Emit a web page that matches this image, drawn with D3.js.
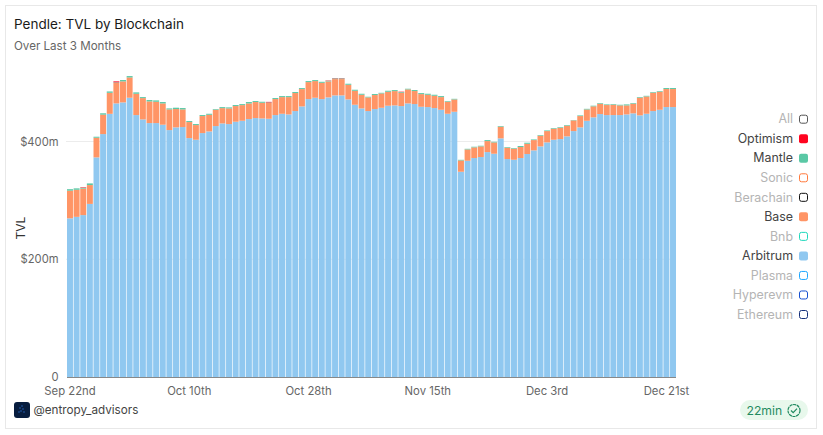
<!DOCTYPE html>
<html><head><meta charset="utf-8">
<script src="https://cdn.jsdelivr.net/npm/d3@7"></script>
<style>
html,body{margin:0;padding:0;background:#fff}
svg{display:block;font-family:Inter,"Noto Sans",sans-serif}
.domain{display:none}
</style></head><body>
<svg id="c" width="823" height="435"></svg>
<script>
const arbitrum=[269.5,272,275,294,373,412.6,447,464.7,466.4,474.3,444.9,437.5,431.3,431.3,428.5,419.4,424,424.5,405.8,403,414.3,417.1,426.2,430.7,429.6,433.6,435.2,438.1,439.8,439.2,438.6,444.9,447.1,446,451.7,459.6,472,474.3,472,474.9,478.3,478.3,471.5,462.4,456.2,451.7,455.1,457.3,460.7,461.3,460.2,464.7,463.6,459,458.5,456.8,453.9,447.1,450.5,348.6,367.3,371.9,373.6,382,379.2,405.3,370.2,369,371.9,378.7,384.9,391.7,398.5,403,404.1,408.7,417.7,424,435.2,441,446.6,444.9,444.9,444.9,446,447.8,444.4,447.1,451.7,453.9,458.5,458.5];
const base=[47,46,45,32,33.4,33,35.7,35,35.7,34.5,36.2,36.2,36.8,36.2,36.2,35.1,31.1,30,27.2,24.9,28.9,28.3,27.7,26,26.6,26.6,26.6,26.6,27.2,26.6,27.2,27.2,28.3,29.4,30.6,29.4,28.9,28.3,27.7,27.2,27.7,27.7,24.9,23.8,23.2,23.2,23.8,24.3,23.8,24.3,22.6,23.8,22.1,21.5,20.9,20.9,21.5,20.4,20.9,19.2,19.2,18.1,18.1,18.7,19.2,19.8,19.2,18.7,18.7,17.5,17.5,18.1,19.2,18.7,19.2,18.1,18.1,19.2,19.2,18.7,17.5,17,17.5,16.4,15.3,16.4,30,29.4,31.1,30.6,30.6,30.6];
const mantle=[2.5,2.4,1.4,2.8,1.7,2.3,2.3,0.8,2.3,2.3,2.3,1.7,2.3,2.3,2.3,1.7,2.3,2.3,1.7,1.7,1.7,1.7,1.1,1.7,1.7,1.7,1.7,2.3,1.7,1.7,0.6,1.7,1.7,1.7,1.7,1.7,1.7,1.7,1.7,1.1,1.1,1.1,1.7,1.7,1.7,1.1,1.7,1.1,1.7,1.7,1.2,1.1,1.7,1.7,1.7,1.7,1.7,1.1,1.1,1.1,1.1,1.1,1.1,1.7,1.1,1.1,1.1,1.1,1.7,1.7,1.1,1.1,1.1,1.1,1.1,1.1,0.6,1.1,1.1,1.1,1.1,1.1,1.1,1.1,1.7,1.1,1.1,1.1,1.1,1.1,1.7,1.7];
const optimism=[0,0,0.8,0,0,0,0,1.6,0,0,0,0,0,0,0,0,0,0,0,0,0,0,0,0,0,0,0,0,0,0,0.9,0,0,0,0,0,0,0,0,0.5,0.5,0.5,0,0,0,0,0,0,0,0,0.6,0,0,0,0,0,0,0,0,0,0,0,0,0,0,0,0,0,0,0,0,0,0,0,0,0,0,0,0,0,0,0,0,0,0,0,0,0,0,0,0,0];
const days=d3.timeDay.range(new Date(2025,8,22),new Date(2025,11,23));
const tickDays=[new Date(2025,8,22),new Date(2025,9,10),new Date(2025,9,28),new Date(2025,10,15),new Date(2025,11,3),new Date(2025,11,21)];
const tickLabels=["Sep 22nd","Oct 10th","Oct 28th","Nov 15th","Dec 3rd","Dec 21st"];
const yTicks=[0,200,400];
const legendNames=["All","Optimism","Mantle","Sonic","Berachain","Base","Bnb","Arbitrum","Plasma","Hyperevm","Ethereum"];
const legendColors=["#555555","#ff0420","#5ac8a5","#ff7a3d","#111111","#ff9566","#1fd8bc","#90c8f0","#1ea7ff","#1550d0","#14307a"];
const legendActive=["Optimism","Mantle","Base","Arbitrum"];

const svg=d3.select("#c");
svg.append("rect").attr("x",5.5).attr("y",5.5).attr("width",811).attr("height",423)
  .attr("fill","#fff").attr("stroke","#e8e8e8");
svg.append("text").attr("x",14).attr("y",29).attr("font-size",13.5).attr("fill","#1a1a1a").text("Pendle: TVL by Blockchain");
svg.append("text").attr("x",14).attr("y",50).attr("font-size",11.6).attr("fill","#666").text("Over Last 3 Months");

const x=d3.scaleBand().domain(days).range([67,676]).paddingInner(0.1).paddingOuter(0);
const y=d3.scaleLinear().domain([0,400]).range([377,141.5]);

const gy=svg.append("g").attr("transform","translate(66,0)")
  .call(d3.axisLeft(y).tickValues(yTicks).tickSize(0).tickPadding(7.5).tickFormat(d=>d===0?"0":`$${d}m`));
gy.selectAll("text").attr("font-size",11.2).attr("fill","#666").attr("font-family","Inter");
svg.append("g").selectAll("line").data(yTicks.filter(d=>d>0)).join("line")
  .attr("x1",66).attr("x2",676).attr("y1",d=>y(d)).attr("y2",d=>y(d)).attr("stroke","#ececec").attr("stroke-width",1);

svg.append("text").attr("transform","translate(25,228) rotate(-90)").attr("text-anchor","middle")
  .attr("font-size",12).attr("fill","#333").text("TVL");

const rows=days.map((d,i)=>({day:d,Arbitrum:arbitrum[i],Base:base[i],Mantle:mantle[i],Optimism:optimism[i]}));
const keys=["Arbitrum","Base","Mantle","Optimism"];
const colorOf=d3.scaleOrdinal().domain(legendNames).range(legendColors);
const series=d3.stack().keys(keys)(rows);
svg.append("g").selectAll("g").data(series).join("g").attr("fill",s=>colorOf(s.key))
  .selectAll("rect").data(s=>s).join("rect")
  .attr("x",d=>x(d.data.day)).attr("width",x.bandwidth())
  .attr("y",d=>y(d[1])).attr("height",d=>Math.max(0,y(d[0])-y(d[1])));

const gx=svg.append("g").attr("transform","translate(0,377)")
  .call(d3.axisBottom(x).tickValues(tickDays).tickSize(0).tickPadding(9.5)
    .tickFormat(d=>tickLabels[tickDays.findIndex(t=>+t===+d)]));
gx.selectAll("text").attr("font-size",11.3).attr("fill","#666").attr("font-family","Inter");
svg.append("line").attr("x1",67).attr("x2",676).attr("y1",377.5).attr("y2",377.5).attr("stroke","#888").attr("stroke-width",1);

const ly=d3.scaleLinear().domain([0,legendNames.length-1]).range([119.2,314.5]);
const lg=svg.append("g").selectAll("g").data(legendNames).join("g")
  .attr("transform",(d,i)=>`translate(0,${ly(i)})`);
lg.append("text").attr("x",793).attr("y",4.2).attr("text-anchor","end").attr("font-size",12.4)
  .attr("fill",d=>legendActive.includes(d)?"#444":"#b4b4b4").text(d=>d);
lg.append("rect").attr("x",d=>legendActive.includes(d)?799:799.5).attr("y",d=>legendActive.includes(d)?-4.5:-4)
  .attr("width",d=>legendActive.includes(d)?9:8).attr("height",d=>legendActive.includes(d)?9:8).attr("rx",2)
  .attr("fill",d=>legendActive.includes(d)?colorOf(d):"#fff")
  .attr("stroke",d=>legendActive.includes(d)?"none":colorOf(d)).attr("stroke-width",1);

svg.append("rect").attr("x",14).attr("y",402).attr("width",16).attr("height",16).attr("rx",3).attr("fill","#071d3f");
svg.append("g").attr("fill","#2a6fd0").selectAll("circle").data([[20,408],[23,409],[21,411],[24,412],[19,412],[22,406]]).join("circle")
  .attr("cx",d=>d[0]).attr("cy",d=>d[1]).attr("r",0.7);
svg.append("text").attr("x",33.5).attr("y",414).attr("font-size",11.7).attr("fill","#444").text("@entropy_advisors");

svg.append("rect").attr("x",740).attr("y",400).attr("width",68).attr("height",20).attr("rx",10).attr("fill","#e8f8ec");
svg.append("text").attr("x",746.5).attr("y",414.5).attr("font-size",12.2).attr("fill","#1f8a5f").text("22min");
svg.append("circle").attr("cx",794).attr("cy",410.5).attr("r",6).attr("fill","none").attr("stroke","#1f8a5f").attr("stroke-width",1.2).attr("stroke-dasharray","3.2 0.6");
svg.append("path").attr("d","M791 410.5l2.2 2.2 3.8-4").attr("fill","none").attr("stroke","#1f8a5f").attr("stroke-width",1.2);
</script></body></html>
